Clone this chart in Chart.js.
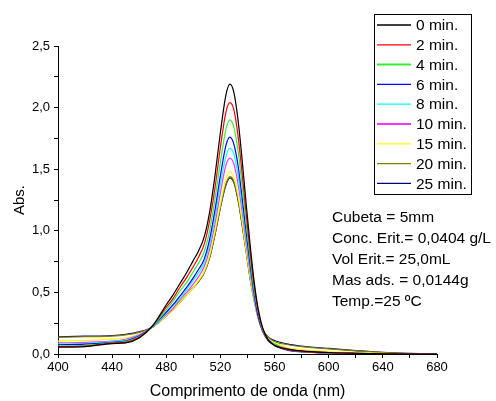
<!DOCTYPE html>
<html>
<head>
<meta charset="utf-8">
<script src="https://cdn.jsdelivr.net/npm/chart.js@4"></script>
<style>
  html, body { margin: 0; padding: 0; background: #fff; }
  #wrap { width: 496px; height: 401px; }
</style>
</head>
<body>
<div id="wrap"><canvas id="uv" width="496" height="401"></canvas></div>
<script>
// UV-Vis spectra of eritrosina over time

const WAVELENGTHS = [400, 420, 440, 450, 460, 470, 480, 485, 490, 495, 500, 504, 508, 512, 516, 520, 524, 527, 530, 533, 536, 539, 542, 545, 548, 551, 555, 560, 570, 580, 600, 620, 640, 660, 680];

const SERIES_LABELS = ["0 min.", "2 min.", "4 min.", "6 min.", "8 min.", "10 min.", "15 min.", "20 min.", "25 min."];
const SERIES_COLORS = ["#000000", "#ff0000", "#33ee33", "#0000ff", "#00ffff", "#ff33ff", "#ffff00", "#808000", "#000080"];

const ABS_0 = [0.055, 0.06, 0.085, 0.09, 0.13, 0.23, 0.40, 0.48, 0.57, 0.66, 0.76, 0.84, 0.95, 1.15, 1.45, 1.80, 2.10, 2.19, 2.12, 1.90, 1.58, 1.22, 0.88, 0.58, 0.36, 0.22, 0.12, 0.07, 0.04, 0.025, 0.012, 0.006, 0.002, 0, 0];
const ABS_2 = [0.06, 0.065, 0.088, 0.095, 0.135, 0.23, 0.38, 0.45, 0.54, 0.62, 0.71, 0.79, 0.89, 1.08, 1.35, 1.68, 1.96, 2.04, 1.98, 1.77, 1.47, 1.14, 0.82, 0.55, 0.34, 0.21, 0.12, 0.07, 0.035, 0.022, 0.01, 0.005, 0.002, 0, 0];
const ABS_4 = [0.065, 0.07, 0.09, 0.10, 0.14, 0.225, 0.36, 0.43, 0.51, 0.58, 0.67, 0.74, 0.83, 1.00, 1.26, 1.56, 1.82, 1.90, 1.84, 1.65, 1.37, 1.06, 0.77, 0.51, 0.33, 0.20, 0.12, 0.08, 0.035, 0.02, 0.01, 0.005, 0.002, 0, 0];
const ABS_6 = [0.075, 0.08, 0.095, 0.105, 0.145, 0.225, 0.34, 0.40, 0.47, 0.54, 0.62, 0.69, 0.77, 0.93, 1.17, 1.45, 1.69, 1.76, 1.70, 1.53, 1.27, 0.99, 0.72, 0.48, 0.30, 0.19, 0.11, 0.07, 0.03, 0.018, 0.008, 0.004, 0.001, 0, 0];
const ABS_8 = [0.08, 0.085, 0.10, 0.11, 0.15, 0.22, 0.33, 0.39, 0.45, 0.52, 0.60, 0.66, 0.74, 0.89, 1.11, 1.38, 1.60, 1.67, 1.62, 1.45, 1.21, 0.94, 0.69, 0.46, 0.30, 0.19, 0.12, 0.08, 0.035, 0.02, 0.01, 0.005, 0.002, 0, 0];
const ABS_10 = [0.09, 0.095, 0.105, 0.12, 0.155, 0.22, 0.32, 0.37, 0.44, 0.50, 0.57, 0.63, 0.71, 0.85, 1.06, 1.31, 1.53, 1.59, 1.54, 1.38, 1.16, 0.90, 0.66, 0.44, 0.29, 0.19, 0.12, 0.08, 0.04, 0.025, 0.012, 0.006, 0.003, 0.004, 0];
const ABS_15 = [0.105, 0.11, 0.12, 0.13, 0.16, 0.22, 0.31, 0.36, 0.42, 0.48, 0.54, 0.60, 0.67, 0.80, 1.00, 1.22, 1.42, 1.48, 1.43, 1.29, 1.08, 0.84, 0.62, 0.42, 0.28, 0.19, 0.12, 0.09, 0.05, 0.035, 0.02, 0.012, 0.006, 0.002, 0];
const ABS_20 = [0.135, 0.14, 0.145, 0.155, 0.175, 0.22, 0.31, 0.36, 0.42, 0.48, 0.54, 0.59, 0.66, 0.78, 0.97, 1.19, 1.38, 1.44, 1.40, 1.26, 1.06, 0.83, 0.61, 0.43, 0.29, 0.20, 0.14, 0.10, 0.075, 0.06, 0.042, 0.026, 0.012, 0.004, 0];
const ABS_25 = [0.14, 0.145, 0.15, 0.16, 0.18, 0.22, 0.31, 0.36, 0.42, 0.48, 0.54, 0.59, 0.66, 0.78, 0.97, 1.19, 1.37, 1.43, 1.39, 1.25, 1.05, 0.83, 0.61, 0.43, 0.29, 0.20, 0.14, 0.11, 0.08, 0.065, 0.045, 0.028, 0.013, 0.005, 0];

const ALL_ABS = [ABS_0, ABS_2, ABS_4, ABS_6, ABS_8, ABS_10, ABS_15, ABS_20, ABS_25];

const NOTE_LINES = ["Cubeta = 5mm", "Conc. Erit.= 0,0404 g/L", "Vol Erit.= 25,0mL", "Mas ads. = 0,0144g", "Temp.=25 ºC"];

const FONT = "Arial, 'Liberation Sans', sans-serif";

const fmtComma = (v) => v.toFixed(1).replace(".", ",");

// legend box + text block, drawn on top of the chart
const overlayPlugin = {
  id: "overlay",
  afterDraw(chart) {
    const ctx = chart.ctx;
    ctx.save();

    // legend
    const bx = 374, by = 14, bw = 97, bh = 180;
    ctx.fillStyle = "#fff";
    ctx.fillRect(bx, by, bw, bh);
    ctx.strokeStyle = "#000";
    ctx.lineWidth = 1;
    ctx.strokeRect(bx + 0.5, by + 0.5, bw, bh);

    ctx.font = "15.5px " + FONT;
    ctx.textBaseline = "middle";
    chart.data.datasets.forEach((ds, i) => {
      const y = 25 + i * 19.8;
      ctx.strokeStyle = ds.borderColor;
      ctx.lineWidth = (i === 2 || i === 5) ? 2 : 1.3;
      ctx.beginPath();
      ctx.moveTo(377, y);
      ctx.lineTo(411, y);
      ctx.stroke();
      ctx.fillStyle = "#000";
      ctx.fillText(ds.label, 416, y + 1);
    });

    // experimental conditions
    ctx.fillStyle = "#000";
    NOTE_LINES.forEach((t, i) => ctx.fillText(t, 332, 218 + i * 21));

    ctx.restore();
  }
};

const datasets = ALL_ABS.map((vals, i) => ({
  label: SERIES_LABELS[i],
  data: WAVELENGTHS.map((w, k) => ({ x: w, y: vals[k] })),
  borderColor: SERIES_COLORS[i],
  borderWidth: 1.2,
  pointRadius: 0,
  cubicInterpolationMode: "monotone",
  fill: false
}));

new Chart(document.getElementById("uv"), {
  type: "line",
  data: { datasets },
  options: {
    responsive: false,
    animation: false,
    devicePixelRatio: 1,
    layout: { padding: { top: 46, right: 59, left: 0, bottom: 0 } },
    plugins: {
      legend: { display: false },
      tooltip: { enabled: false }
    },
    scales: {
      x: {
        type: "linear",
        min: 400,
        max: 680,
        afterFit: (s) => { s.height = 47; },
        border: { display: true, color: "#000", width: 1 },
        grid: { drawOnChartArea: false, drawTicks: true, tickLength: 4, color: "#000" },
        ticks: {
          stepSize: 20,
          color: "#000",
          font: { family: FONT, size: 13 },
          padding: 2,
          maxRotation: 0,
          autoSkip: false,
          callback: (v) => (v % 40 === 0 ? String(v) : "")
        },
        title: {
          display: true,
          text: "Comprimento de onda (nm)",
          color: "#000",
          font: { family: FONT, size: 16 },
          padding: { top: 2, bottom: 0 }
        }
      },
      y: {
        min: 0,
        max: 2.5,
        afterFit: (s) => { s.width = 58; },
        border: { display: true, color: "#000", width: 1 },
        grid: { drawOnChartArea: false, drawTicks: true, tickLength: 4, color: "#000" },
        ticks: {
          stepSize: 0.25,
          color: "#000",
          font: { family: FONT, size: 13 },
          padding: 4,
          autoSkip: false,
          callback: (v) => (Math.abs(v * 2 - Math.round(v * 2)) < 1e-6 ? fmtComma(v) : "")
        },
        title: {
          display: true,
          text: "Abs.",
          color: "#000",
          font: { family: FONT, size: 15 },
          padding: { top: 11, bottom: 0 }
        }
      }
    }
  },
  plugins: [overlayPlugin]
});
</script>
</body>
</html>
